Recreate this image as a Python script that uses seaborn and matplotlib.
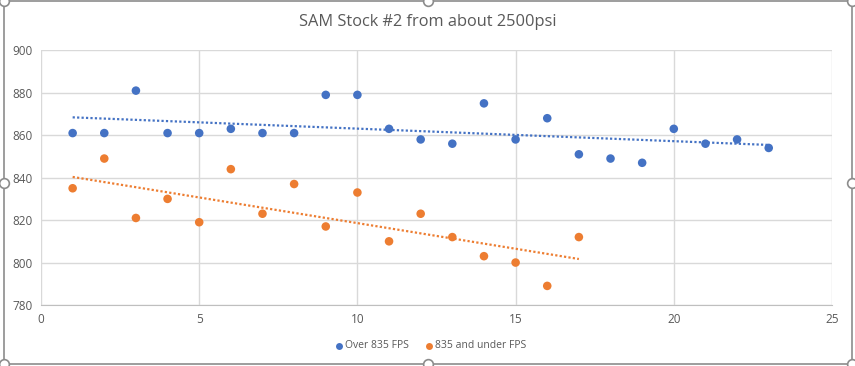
import numpy as np
import pandas as pd
import matplotlib
matplotlib.use("Agg")
import matplotlib.pyplot as plt
from matplotlib.lines import Line2D
from matplotlib.patches import Rectangle
import seaborn as sns

over_x = list(range(1, 24))
over_y = [861, 861, 881, 861, 861, 863, 861, 861, 879, 879, 863, 858,
          856, 875, 858, 868, 851, 849, 847, 863, 856, 858, 854]
under_x = list(range(1, 18))
under_y = [835, 849, 821, 830, 819, 844, 823, 837, 817, 833, 810, 823,
           812, 803, 800, 789, 812]
series_names = ["Over 835 FPS", "835 and under FPS"]
colors = ["#4472C4", "#ED7D31"]
title = "SAM Stock #2 from about 2500psi"
xticks = [0, 5, 10, 15, 20, 25]
yticks = [780, 800, 820, 840, 860, 880, 900]

df = pd.concat([
    pd.DataFrame({"x": over_x, "y": over_y, "s": series_names[0]}),
    pd.DataFrame({"x": under_x, "y": under_y, "s": series_names[1]}),
])

sns.set_style("white")
plt.rcParams["font.family"] = ["Open Sans", "DejaVu Sans"]

W, H = 855, 366
fig = plt.figure(figsize=(W / 100, H / 100), dpi=100)
ax = fig.add_axes([41 / W, 1 - 305 / H, (832 - 41) / W, (305 - 50.3) / H])

for name, c in zip(series_names, colors):
    sub = df[df["s"] == name]
    sns.regplot(data=sub, x="x", y="y", ax=ax, ci=None, scatter=False,
                color=c, line_kws=dict(linestyle=(0, (1, 1)), linewidth=1.6))
sns.scatterplot(data=df, x="x", y="y", hue="s", palette=colors, ax=ax,
                s=38, edgecolor="none", legend=False, zorder=3)

ax.set_xlim(0, 25)
ax.set_ylim(780, 900)
ax.set_xticks(xticks)
ax.set_yticks(yticks)
ax.grid(True, color="#D9D9D9", linewidth=1)
ax.set_axisbelow(True)
for s in ["top", "right", "left"]:
    ax.spines[s].set_visible(False)
ax.spines["bottom"].set_color("#BFBFBF")
ax.tick_params(axis="both", length=0, labelsize=8.5, labelcolor="#595959", pad=6)
ax.set_xlabel("")
ax.set_ylabel("")

fig.text(0.5, 1 - 22 / H, title, ha="center", va="center", fontsize=11.8, color="#595959")

# legend
ly = 1 - 346 / H
for mx, tx, name, c in [(339, 345, series_names[0], colors[0]), (429, 435, series_names[1], colors[1])]:
    fig.add_artist(Line2D([mx / W], [ly], marker="o", markersize=5, markerfacecolor=c,
                          markeredgecolor="none", linestyle="none", transform=fig.transFigure))
    fig.text(tx / W, ly, name, ha="left", va="center", fontsize=7.5, color="#595959")

# chart frame with selection handles
fig.patches.append(Rectangle((4 / W, 1 - 364 / H), (852 - 4) / W, (364 - 1) / H,
                             transform=fig.transFigure, fill=False,
                             edgecolor="#8C8C8C", linewidth=1.2))
for hx, hy in [(4, 1), (428, 1), (852, 1), (4, 183), (852, 183), (4, 364), (428, 364), (852, 364)]:
    fig.add_artist(Line2D([hx / W], [1 - hy / H], marker="o", markersize=7,
                          markerfacecolor="white", markeredgecolor="#8C8C8C",
                          markeredgewidth=1.2, linestyle="none", transform=fig.transFigure))

fig.savefig("out.png", dpi=100)
